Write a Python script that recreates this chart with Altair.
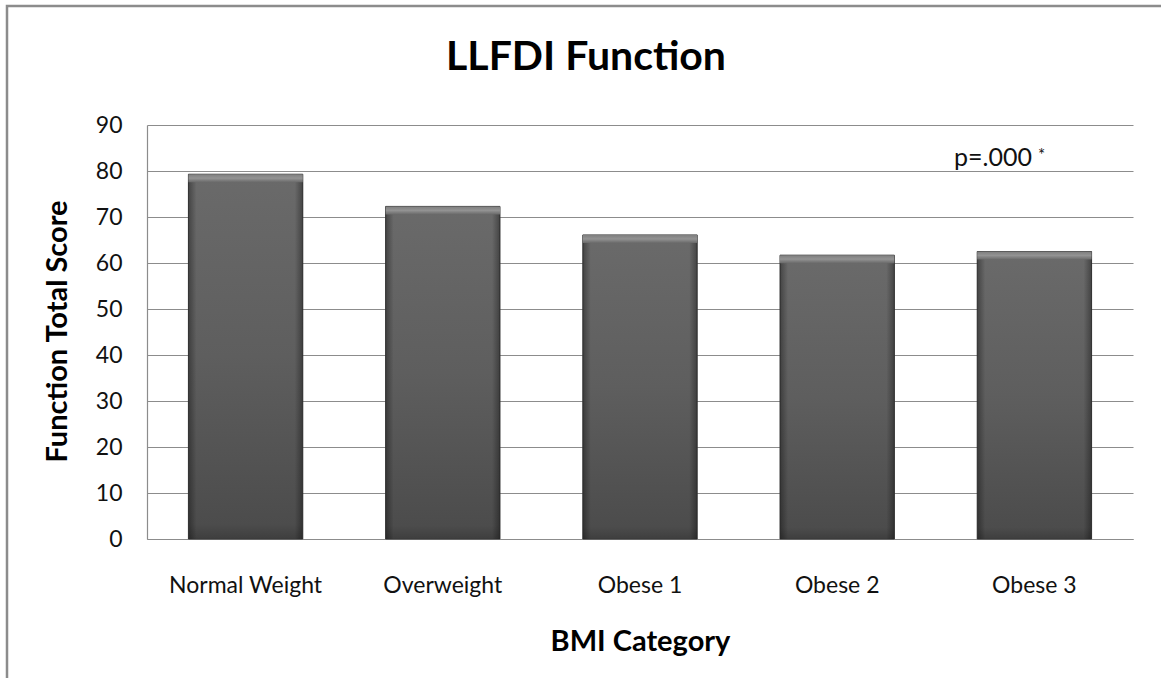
import altair as alt
import pandas as pd

# LLFDI function total score by BMI category
categories = ["Normal Weight", "Overweight", "Obese 1", "Obese 2", "Obese 3"]
scores = [79.3, 72.3, 66.1, 61.7, 62.5]
y_ticks = [0, 10, 20, 30, 40, 50, 60, 70, 80, 90]

df = pd.DataFrame({"category": categories, "score": scores})

FONT = "Lato"
GRID = "#8c8c8c"

x_enc = alt.X(
    "category:N",
    sort=categories,
    scale=alt.Scale(paddingInner=0.42, paddingOuter=0.21),
    axis=alt.Axis(
        title="BMI Category",
        labelAngle=0,
        labelFont=FONT,
        labelFontSize=23,
        labelColor="#111111",
        labelPadding=35,
        ticks=False,
        domainColor=GRID,
        domainWidth=1.2,
        titleFont=FONT,
        titleFontSize=29,
        titleFontWeight="bold",
        titleColor="#000000",
        titleBaseline="middle",
        titleY=102,
    ),
)
x_plain = alt.X("category:N", sort=categories)

y_enc = alt.Y(
    "score:Q",
    scale=alt.Scale(domain=[0, 90], nice=False),
    axis=alt.Axis(
        title="Function Total Score",
        values=y_ticks,
        labelFont=FONT,
        labelFontSize=23,
        labelColor="#111111",
        labelPadding=25,
        ticks=False,
        domainColor=GRID,
        domainWidth=1.2,
        gridColor=GRID,
        gridWidth=1.2,
        titleFont=FONT,
        titleFontSize=29,
        titleFontWeight="bold",
        titleColor="#000000",
        titleBaseline="middle",
        titleX=-90,
        titleY=206,
    ),
)

# bar body: vertical shading, darker toward the base
body = alt.Chart(df).mark_bar(
    stroke="#3a3a3a",
    strokeWidth=1,
    color=alt.Gradient(
        gradient="linear",
        x1=0, y1=0, x2=0, y2=1,
        stops=[
            alt.GradientStop(offset=0, color="#6a6a6a"),
            alt.GradientStop(offset=0.5, color="#5e5e5e"),
            alt.GradientStop(offset=0.96, color="#4c4c4c"),
            alt.GradientStop(offset=1, color="#3e3e3e"),
        ],
    ),
).encode(x=x_enc, y=y_enc)

# darkened side edges
edges = alt.Chart(df).mark_bar(
    color=alt.Gradient(
        gradient="linear",
        x1=0, y1=0, x2=1, y2=0,
        stops=[
            alt.GradientStop(offset=0, color="rgba(0,0,0,0.35)"),
            alt.GradientStop(offset=0.07, color="rgba(0,0,0,0)"),
            alt.GradientStop(offset=0.93, color="rgba(0,0,0,0)"),
            alt.GradientStop(offset=1, color="rgba(0,0,0,0.35)"),
        ],
    ),
).encode(x=x_plain, y="score:Q")

# lighter bevel strip along the top of each bar
bevel = alt.Chart(df).mark_bar(
    y2Offset=8,
    color=alt.Gradient(
        gradient="linear",
        x1=0, y1=0, x2=0, y2=1,
        stops=[
            alt.GradientStop(offset=0, color="#7e7e7e"),
            alt.GradientStop(offset=0.5, color="#939393"),
            alt.GradientStop(offset=1, color="#6a6a6a"),
        ],
    ),
).encode(x=x_plain, y="score:Q", y2="score:Q")

one = pd.DataFrame({"k": [0]})

title = alt.Chart(one).mark_text(
    text="LLFDI Function", font=FONT, fontSize=41, fontWeight="bold",
    color="#000000", align="center", baseline="middle",
).encode(x=alt.value(439), y=alt.value(-67))

p_text = alt.Chart(one).mark_text(
    text="p=.000", font=FONT, fontSize=25, color="#111111",
    align="left", baseline="alphabetic",
).encode(x=alt.value(807), y=alt.value(41))

p_star = alt.Chart(one).mark_text(
    text="*", font=FONT, fontSize=17, color="#111111",
    align="left", baseline="alphabetic",
).encode(x=alt.value(891), y=alt.value(36))

frame = alt.Chart(one).mark_rect(
    filled=False, stroke="#8c8c8c", strokeWidth=2.5,
).encode(x=alt.value(-140), x2=alt.value(1200), y=alt.value(-119), y2=alt.value(700))

chart = (
    alt.layer(body, edges, bevel, p_text, p_star, title, frame)
    .properties(
        width=986,
        height=414,
        autosize=alt.AutoSizeParams(type="none"),
        padding={"left": 147, "top": 125, "right": 28, "bottom": 139},
        background="white",
    )
    .configure_view(stroke=None)
)

chart.save("out.html", embed_options={"renderer": "svg", "actions": False})
